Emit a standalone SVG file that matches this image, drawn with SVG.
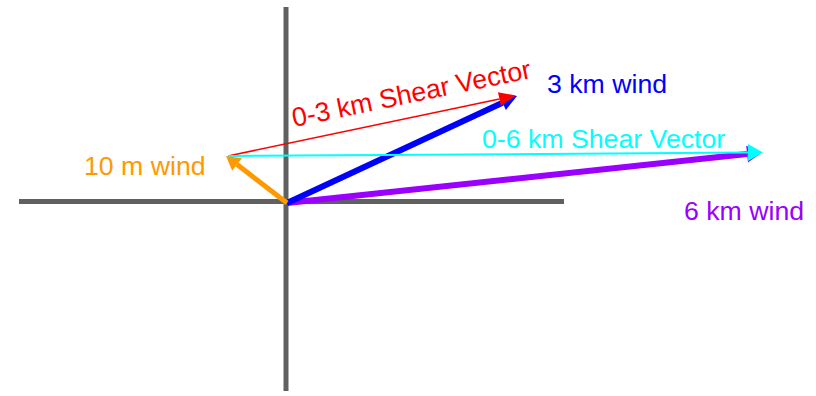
<svg xmlns="http://www.w3.org/2000/svg" width="816" height="396" viewBox="0 0 816 396">
<style>
.lbl{font-family:"Liberation Sans",Arial,sans-serif;font-size:26.7px}
.axis{stroke:#606060;stroke-width:5;fill:none}
.vec{fill:none;stroke-linecap:butt}
</style>
<defs>
<marker id="hOrange" markerUnits="userSpaceOnUse" markerWidth="14" markerHeight="16" refX="0" refY="8" orient="auto" overflow="visible"><path d="M0,0 L14,8 L0,16 z" fill="#FF9900"/></marker>
<marker id="hBlue" markerUnits="userSpaceOnUse" markerWidth="16" markerHeight="16" refX="0" refY="8" orient="auto" overflow="visible"><path d="M0,0 L16,8 L0,16 z" fill="#0000FF"/></marker>
<marker id="hRed" markerUnits="userSpaceOnUse" markerWidth="17" markerHeight="14" refX="0" refY="7" orient="auto" overflow="visible"><path d="M0,0 L17,7 L0,14 z" fill="#FF0000"/></marker>
<marker id="hCyan" markerUnits="userSpaceOnUse" markerWidth="15" markerHeight="17" refX="0" refY="8.5" orient="auto" overflow="visible"><path d="M0,0 L15,8.5 L0,17 z" fill="#00FFFF"/></marker>
<marker id="hPurple" markerUnits="userSpaceOnUse" markerWidth="15" markerHeight="17" refX="0" refY="8.5" orient="auto" overflow="visible"><path d="M0,0 L15,8.5 L0,17 z" fill="#9900FF"/></marker>
</defs>
<g id="axes">
<line class="axis" x1="286" y1="7" x2="286" y2="391"/>
<line class="axis" x1="19" y1="201.5" x2="564" y2="201.5"/>
</g>
<g id="connectors">
<line id="wind6km" class="vec" x1="287" y1="203" x2="747.1" y2="154.1" stroke="#9900FF" stroke-width="6" marker-end="url(#hPurple)"/>
<line id="wind3km" class="vec" x1="287" y1="203" x2="502.5" y2="102.7" stroke="#0000FF" stroke-width="6" marker-end="url(#hBlue)"/>
<line id="shear03" class="vec" x1="228" y1="156" x2="499.4" y2="99" stroke="#FF0000" stroke-width="1.5" marker-end="url(#hRed)"/>
<line id="shear06" class="vec" x1="228" y1="156" x2="748" y2="152.6" stroke="#00FFFF" stroke-width="2" marker-end="url(#hCyan)"/>
<line id="wind10m" class="vec" x1="287" y1="203" x2="237.1" y2="164.5" stroke="#FF9900" stroke-width="5" marker-end="url(#hOrange)"/>
</g>
<g id="label-3km"><text class="lbl" x="547" y="93" fill="#0000FF">3 km wind</text></g>
<g id="label-10m"><text class="lbl" x="84" y="175" fill="#FF9900">10 m wind</text></g>
<g id="label-6km"><text class="lbl" x="684" y="220" fill="#9900FF">6 km wind</text></g>
<g id="label-shear06"><text class="lbl" x="482" y="148" fill="#00FFFF">0-6 km Shear Vector</text></g>
<g id="label-shear03"><text class="lbl" x="294" y="127" fill="#FF0000" transform="rotate(-11.7 294 127)">0-3 km Shear Vector</text></g>
</svg>
